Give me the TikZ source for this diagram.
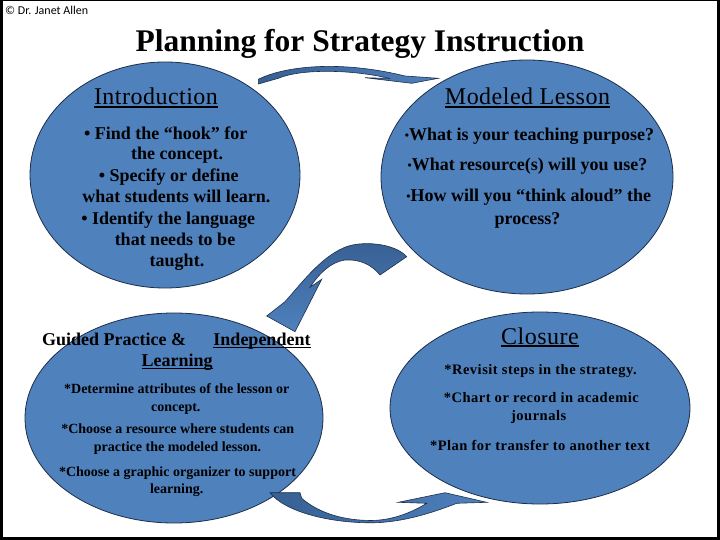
\documentclass[tikz,border=0pt]{standalone}
\usepackage{fontspec}
\setmainfont{Liberation Serif}
\newfontfamily\credfont{Carlito}
\usetikzlibrary{shapes.geometric}
\definecolor{ellblue}{HTML}{4F81BD}
\definecolor{arrdark}{HTML}{375F93}
\definecolor{edgenavy}{HTML}{1C2E4A}
\newcommand{\setfs}[1]{\fontsize{#1}{#1}\selectfont}
\newcommand{\ulin}[1]{\setbox0=\hbox{#1}\rlap{\rule[-0.12em]{\wd0}{0.065em}}\box0}
\newcommand{\smbul}{{\setfs{12}\raisebox{0.12em}{•}}}
\begin{document}
\begin{tikzpicture}[x=1pt,y=-1pt,
  blob/.style={ellipse, draw=edgenavy, line width=0.8pt, fill=ellblue, inner sep=0},
  arrowshape/.style={draw=edgenavy, line width=0.6pt},
  hdr/.style={anchor=base, inner sep=0, font=\setfs{24}\addfontfeature{LetterSpace=2}},
  body/.style={anchor=base, inner sep=0, font=\bfseries\setfs{18}},
  small/.style={anchor=base, inner sep=0, font=\bfseries\setfs{14}},
  closetxt/.style={anchor=base, inner sep=0, font=\bfseries\setfs{14.5}\addfontfeature{LetterSpace=3.5}}
]
\useasboundingbox (0,0) rectangle (720,540);
\fill[white] (0,0) rectangle (720,540);
% frame
\fill[black] (0,0) rectangle (720,1.5);
\fill[black] (0,0) rectangle (3,540);
\fill[black] (717,0) rectangle (720,540);
\fill[black] (0,537) rectangle (720,540);

% credit and title
\node[anchor=base west, inner sep=0, font=\credfont\setfs{12}] (credit) at (5,15) {© Dr. Janet Allen};
\node[anchor=base, inner sep=0, font=\bfseries\setfs{31.5}] (title) at (360,52) {Planning for Strategy Instruction};

% ellipses
\node[blob, minimum width=270pt, minimum height=226pt] (intro) at (165,175) {};
\node[blob, minimum width=292pt, minimum height=234pt] (model) at (527,177) {};
\node[blob, minimum width=298pt, minimum height=210pt] (guided) at (174,418) {};
\node[blob, minimum width=300pt, minimum height=192pt] (closure) at (540,408) {};

% arrows
\draw[arrowshape, left color=arrdark, right color=ellblue]
  (258.3,79.3) .. controls (285,66) and (340,60) .. (405,76)
  -- (438.3,78.3) -- (411.7,83.3) -- (365,77.7) -- (390,78.5)
  .. controls (350,69) and (300,69) .. (278.3,78.3) -- (258.3,84) -- cycle;
\draw[arrowshape, top color=arrdark, bottom color=ellblue]
  (406.7,256.7) .. controls (395,243) and (360,240) .. (343.3,248)
  .. controls (320,258) and (300,285) .. (285,301.7)
  -- (266.7,316) -- (295,331.7) -- (321.7,279.3) -- (310,287.3)
  .. controls (318,275) and (330,262) .. (345,260)
  .. controls (360,259) and (372,265) .. (380,275) -- cycle;
\draw[arrowshape, left color=arrdark, right color=ellblue]
  (270,492.7) -- (300,492.7) -- (301.7,498.3)
  .. controls (320,514) and (345,520.5) .. (372,520.5)
  .. controls (395,520) and (414,511) .. (426.7,503.3)
  -- (398.3,502.3) -- (445,492.7) -- (486.7,502.3) -- (456.7,503.3)
  .. controls (432,513) and (402,522.5) .. (372,522.8)
  .. controls (330,523) and (285,512) .. (270,492.7) -- cycle;

% Introduction
\node[hdr] (introhd) at (156,105) {\ulin{Introduction}};
\node[body] (i1) at (165.8,139.3) {• Find the “hook” for};
\node[body] (i2) at (177.2,160) {the concept.};
\node[body] (i3) at (168.8,181.7) {• Specify or define};
\node[body] (i4) at (176.3,202.7) {what students will learn.};
\node[body] (i5) at (168.3,225) {• Identify the language};
\node[body] (i6) at (175,245.7) {that needs to be};
\node[body] (i7) at (177,266.7) {taught.};

% Modeled Lesson
\node[hdr] (modelhd) at (527.5,105) {\ulin{Modeled Lesson}};
\node[body] (m1) at (529.5,140.7) {\smbul What is your teaching purpose?};
\node[body] (m2) at (527.5,170.7) {\smbul What resource(s) will you use?};
\node[body] (m3) at (528.8,201.7) {\smbul How will you “think aloud” the};
\node[body] (m4) at (527.5,224.3) {process?};

% Guided Practice
\node[body] (g1) at (114.2,345.7) {Guided Practice \&};
\node[body] (g2) at (262,345.7) {\ulin{Independent}};
\node[body] (g3) at (177.2,366.7) {\ulin{Learning}};
\node[small] (g4) at (176.7,393.3) {*Determine attributes of the lesson or};
\node[small] (g5) at (175.8,411.7) {concept.};
\node[small] (g6) at (177.8,433.3) {*Choose a resource where students can};
\node[small] (g7) at (177.5,451.7) {practice the modeled lesson.};
\node[small] (g8) at (177.5,476.7) {*Choose a graphic organizer to support};
\node[small] (g9) at (176.7,493.3) {learning.};

% Closure
\node[hdr] (closehd) at (540,344) {\ulin{Closure}};
\node[closetxt] (c1) at (540.5,374) {*Revisit steps in the strategy.};
\node[closetxt] (c2) at (541.3,402.7) {*Chart or record in academic};
\node[closetxt] (c3) at (538.7,420.7) {journals};
\node[closetxt] (c4) at (540,450) {*Plan for transfer to another text};
\end{tikzpicture}
\end{document}
